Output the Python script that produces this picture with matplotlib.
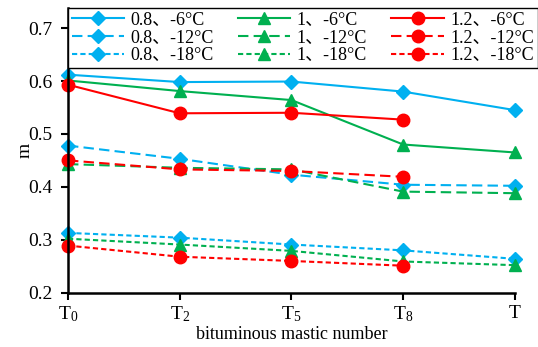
import matplotlib
matplotlib.use("Agg")
import matplotlib.pyplot as plt
import numpy as np

plt.rcParams['font.family'] = ['Liberation Serif', 'Noto Sans CJK SC']
plt.rcParams['mathtext.fontset'] = 'custom'
plt.rcParams['mathtext.rm'] = 'Liberation Serif'
plt.rcParams['mathtext.it'] = 'Liberation Serif:italic'

categories = [r'$\mathrm{T}_{0}$', r'$\mathrm{T}_{2}$', r'$\mathrm{T}_{5}$', r'$\mathrm{T}_{8}$', 'T']

# m values per ratio and temperature
m_08_6 = [0.612, 0.598, 0.599, 0.580, 0.545]
m_08_12 = [0.478, 0.453, 0.423, 0.404, 0.402]
m_08_18 = [0.313, 0.304, 0.291, 0.280, 0.264]
m_10_6 = [0.601, 0.581, 0.564, 0.480, 0.465]
m_10_12 = [0.443, 0.436, 0.433, 0.391, 0.388]
m_10_18 = [0.302, 0.291, 0.279, 0.259, 0.252]
m_12_6 = [0.593, 0.539, 0.540, 0.527]
m_12_12 = [0.450, 0.433, 0.430, 0.419]
m_12_18 = [0.289, 0.268, 0.260, 0.251]

blue, green, red = '#00B0F0', '#00B050', '#FF0000'
long_dash = (0, (5, 2.5))
short_dash = (0, (2.5, 1.5))

fig = plt.figure(figsize=(5.38, 3.47), dpi=100)
ax = fig.add_axes([0.1264, 0.1565, 0.957 - 0.1264, 0.977 - 0.1565])

x = np.arange(len(categories))
series = [
    (m_08_6, blue, '-', 'D', '0.8、-6°C'),
    (m_08_12, blue, long_dash, 'D', '0.8、-12°C'),
    (m_08_18, blue, short_dash, 'D', '0.8、-18°C'),
    (m_10_6, green, '-', '^', '1、-6°C'),
    (m_10_12, green, long_dash, '^', '1、-12°C'),
    (m_10_18, green, short_dash, '^', '1、-18°C'),
    (m_12_6, red, '-', 'o', '1.2、-6°C'),
    (m_12_12, red, long_dash, 'o', '1.2、-12°C'),
    (m_12_18, red, short_dash, 'o', '1.2、-18°C'),
]
for vals, c, ls, mk, lab in series:
    ms = {'D': 7.5, '^': 8.5, 'o': 9}[mk]
    ax.plot(x[:len(vals)], vals, color=c, linestyle=ls, marker=mk, markersize=ms,
            linewidth=1.5, label=lab, clip_on=False)

ax.set_xlim(0, 4)
ax.set_ylim(0.2, 0.738)
ax.set_yticks([0.2, 0.3, 0.4, 0.5, 0.6, 0.7])
ax.set_yticklabels(['0.2', '0.3', '0.4', '0.5', '0.6', '0.7'])
ax.set_xticks(x)
ax.set_xticklabels(categories)
ax.tick_params(axis='both', labelsize=14, direction='out', length=5, width=1.5, color='black')
ax.tick_params(axis='y', pad=6)
ax.spines['top'].set_visible(False)
ax.spines['right'].set_visible(False)
ax.spines['left'].set_linewidth(1.8)
ax.spines['bottom'].set_linewidth(1.8)

ax.set_xlabel('bituminous mastic number', fontsize=13, labelpad=1)
ax.set_ylabel('m', fontsize=14)
ax.yaxis.set_label_coords(-0.078, 0.5)

leg = ax.legend(ncol=3, loc='upper left', bbox_to_anchor=(0.0, 1.0), fontsize=13,
                frameon=True, fancybox=False, edgecolor='black', framealpha=1,
                handlelength=2.9, handletextpad=0.35, columnspacing=1.35,
                labelspacing=0.05, borderpad=0.2, borderaxespad=0)
leg.get_frame().set_linewidth(1.0)

fig.savefig('out.png', dpi=100)
